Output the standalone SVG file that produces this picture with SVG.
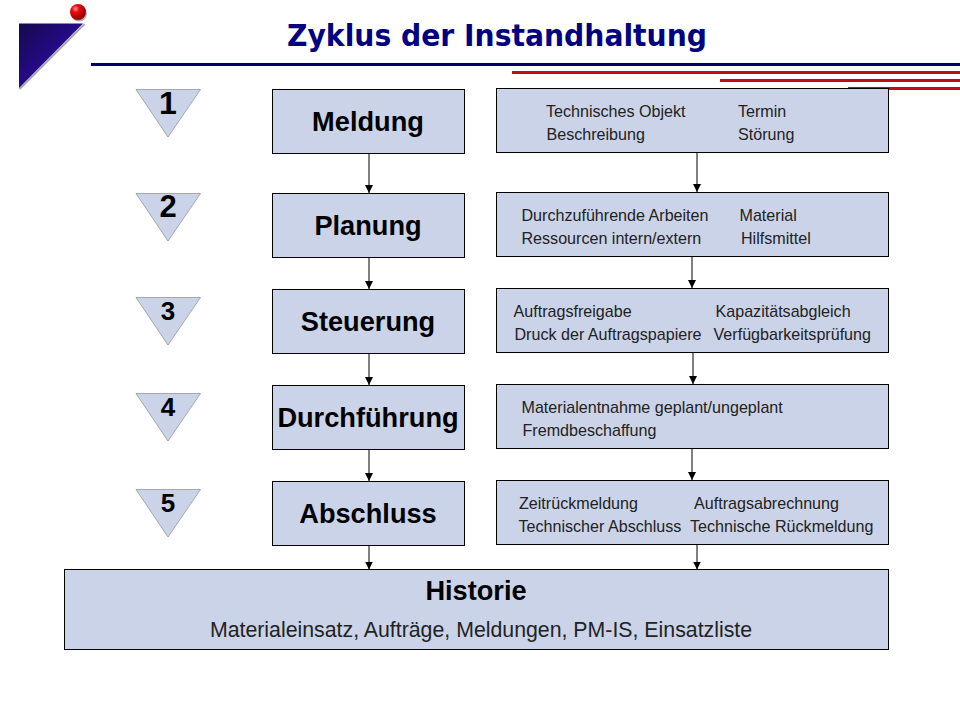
<svg xmlns="http://www.w3.org/2000/svg" width="960" height="720" viewBox="0 0 960 720">
<style>
text{font-family:"Liberation Sans",Arial,sans-serif;fill:#000}
.box{fill:#cbd3e8;stroke:#000;stroke-width:1}
.tri{fill:#cbd3e8;stroke:#a8a8a8;stroke-width:1}
.n{font-size:27.200px;font-weight:bold;text-anchor:middle}
.h{font-size:27.200px;font-weight:bold;text-anchor:middle}
.d{font-size:16.100px;fill:#222}
.c{stroke:#000;stroke-width:1;fill:none;marker-end:url(#a)}
.r{fill:#c00d14}
</style>
<defs>
<marker id="a" markerUnits="userSpaceOnUse" markerWidth="8" markerHeight="8" refX="8" refY="4" orient="auto"><path d="M0 0L8 4L0 8Z" fill="#000"/></marker>
<linearGradient id="lg" x1="0" y1="0" x2="1" y2="1"><stop offset="0" stop-color="#140a4a"/><stop offset="0.6" stop-color="#2a0a96"/></linearGradient>
<radialGradient id="ball" cx="0.35" cy="0.3" r="0.75"><stop offset="0" stop-color="#ff9090"/><stop offset="0.3" stop-color="#e80c10"/><stop offset="1" stop-color="#8a0000"/></radialGradient>
</defs>
<g id="decor">
<path d="M20 90L85 25L84 23L19 88Z" fill="#a8a8a8"/>
<path d="M19 23.500H83L19 88Z" fill="url(#lg)"/>
<circle cx="79" cy="13.500" r="8" fill="#b0b0b0"/>
<circle cx="78" cy="12" r="8" fill="url(#ball)"/>
<rect x="91" y="63" width="869" height="3" fill="#00006a"/>
<rect class="r" x="512" y="71" width="448" height="3"/>
<rect class="r" x="720" y="79" width="240" height="3"/>
<rect class="r" x="848" y="87" width="112" height="3"/>
</g>
<text x="287" y="46" font-size="31" font-weight="bold" textLength="420" lengthAdjust="spacingAndGlyphs" style="fill:#000080;font-family:'DejaVu Sans',Verdana,sans-serif">Zyklus der Instandhaltung</text>
<g id="connectors">
<path class="c" d="M369 153.500V193"/><path class="c" d="M369 257.500V289"/><path class="c" d="M369 353.500V385"/><path class="c" d="M369 449.500V481"/><path class="c" d="M369 545.500V569.500"/>
<path class="c" d="M697 152.500V192"/><path class="c" d="M692 256.500V288"/><path class="c" d="M693 352.500V384"/><path class="c" d="M692 448.500V480"/><path class="c" d="M697 544.500V569.500"/>
</g>
<g id="tri1"><path class="tri" d="M136 89.500H200.500L168 137Z"/><text class="n" x="168" y="113.500" style="font-size:32px">1</text></g>
<g id="tri2"><path class="tri" d="M136 193.500H200.500L168 241Z"/><text class="n" x="168" y="217" style="font-size:31px">2</text></g>
<g id="tri3"><path class="tri" d="M136 297.500H200.500L168 345Z"/><text class="n" x="168" y="319.500" style="font-size:26px">3</text></g>
<g id="tri4"><path class="tri" d="M136 393.500H200.500L168 441Z"/><text class="n" x="168" y="415.500" style="font-size:26px">4</text></g>
<g id="tri5"><path class="tri" d="M136 489.500H200.500L168 537Z"/><text class="n" x="168" y="511.500" style="font-size:26px">5</text></g>
<g id="meldung"><rect class="box" x="272.500" y="89.500" width="192" height="64"/><text class="n" x="368" y="131">Meldung</text></g>
<g id="planung"><rect class="box" x="272.500" y="193.500" width="192" height="64"/><text class="n" x="368" y="235">Planung</text></g>
<g id="steuerung"><rect class="box" x="272.500" y="289.500" width="192" height="64"/><text class="n" x="368" y="331">Steuerung</text></g>
<g id="durchfuehrung"><rect class="box" x="272.500" y="385.500" width="192" height="64"/><text class="n" x="368" y="427">Durchführung</text></g>
<g id="abschluss"><rect class="box" x="272.500" y="481.500" width="192" height="64"/><text class="n" x="368" y="523">Abschluss</text></g>
<g id="d1"><rect class="box" x="496.500" y="88.500" width="392" height="64"/>
<text class="d" x="546" y="116.500">Technisches Objekt</text><text class="d" x="738" y="116.500">Termin</text><text class="d" x="546.500" y="139.500">Beschreibung</text><text class="d" x="738" y="139.500">Störung</text></g>
<g id="d2"><rect class="box" x="496.500" y="192.500" width="392" height="64"/>
<text class="d" x="521.500" y="220.500">Durchzuführende Arbeiten</text><text class="d" x="739.500" y="220.500">Material</text><text class="d" x="521.500" y="243.500">Ressourcen intern/extern</text><text class="d" x="741" y="243.500">Hilfsmittel</text></g>
<g id="d3"><rect class="box" x="496.500" y="288.500" width="392" height="64"/>
<text class="d" x="513.500" y="316.500">Auftragsfreigabe</text><text class="d" x="715.500" y="316.500">Kapazitätsabgleich</text><text class="d" x="514.500" y="339.500">Druck der Auftragspapiere</text><text class="d" x="713.500" y="339.500">Verfügbarkeitsprüfung</text></g>
<g id="d4"><rect class="box" x="496.500" y="384.500" width="392" height="64"/>
<text class="d" x="521.500" y="412.500">Materialentnahme geplant/ungeplant</text><text class="d" x="522.500" y="435.500">Fremdbeschaffung</text></g>
<g id="d5"><rect class="box" x="496.500" y="480.500" width="392" height="64"/>
<text class="d" x="519" y="508.500">Zeitrückmeldung</text><text class="d" x="694" y="508.500">Auftragsabrechnung</text><text class="d" x="518.500" y="531.500">Technischer Abschluss</text><text class="d" x="690" y="531.500">Technische Rückmeldung</text></g>
<g id="historie"><rect class="box" x="64.500" y="569.500" width="824" height="80"/>
<text class="h" x="476" y="600">Historie</text><text x="481" y="636.500" font-size="21.300" text-anchor="middle" style="fill:#222">Materialeinsatz, Aufträge, Meldungen, PM-IS, Einsatzliste</text></g>
</svg>
